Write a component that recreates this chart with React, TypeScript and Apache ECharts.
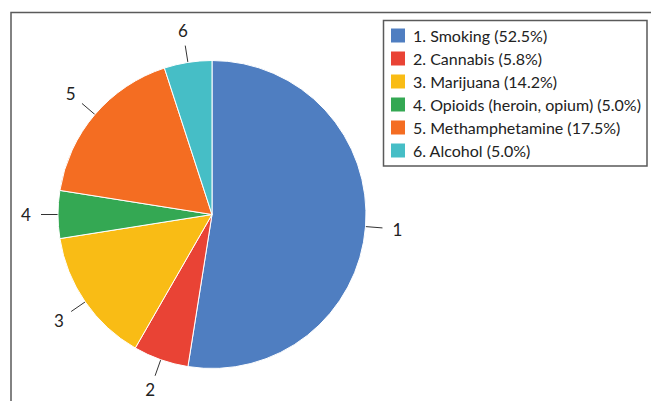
import React, { useEffect, useRef } from "react";
import * as echarts from "echarts";

const categories = [
  "Smoking",
  "Cannabis",
  "Marijuana",
  "Opioids (heroin, opium)",
  "Methamphetamine",
  "Alcohol",
];
const shares = [52.5, 5.8, 14.2, 5.0, 17.5, 5.0];
const sliceLabels = ["1", "2", "3", "4", "5", "6"];
const colors = ["#4F7EC1", "#E94335", "#F9BC15", "#34A853", "#F46D22", "#46BEC6"];

const FONT = "Lato, 'Open Sans', sans-serif";

export default function App() {
  const ref = useRef<HTMLDivElement>(null);

  useEffect(() => {
    if (!ref.current) return;
    const chart = echarts.init(ref.current, undefined, { renderer: "svg" });
    const names = categories.map(
      (c, i) => `${i + 1}. ${c} (${shares[i].toFixed(1)}%)`
    );
    const data = shares.map((v, i) => ({
      name: names[i],
      value: v,
      itemStyle: { color: colors[i] },
    }));
    const ringData = shares.map((v, i) => ({ name: names[i], value: v }));

    chart.setOption({
      animation: false,
      textStyle: { fontFamily: FONT },
      graphic: [
        {
          type: "polyline",
          shape: { points: [[11, 401], [11, 12.5], [651, 12.5]] },
          style: { stroke: "#5a5a5a", lineWidth: 1.5, fill: null },
          silent: true,
        },
        {
          type: "rect",
          shape: { x: 383.5, y: 20.5, width: 263.5, height: 145.5 },
          style: { stroke: "#5a5a5a", lineWidth: 1.5, fill: null },
          silent: true,
        },
      ],
      legend: {
        orient: "vertical",
        left: 389,
        top: 26.5,
        padding: 0,
        itemWidth: 16,
        itemHeight: 16,
        itemGap: 5,
        icon: "rect",
        selectedMode: false,
        data: names,
        textStyle: {
          fontFamily: FONT,
          fontSize: 16,
          color: "#222222",
          padding: [0, 0, 0, 2],
        },
      },
      series: [
        {
          type: "pie",
          center: [212, 214.5],
          radius: 154,
          startAngle: 90,
          clockwise: true,
          avoidLabelOverlap: false,
          data,
          itemStyle: { borderColor: "#ffffff", borderWidth: 1 },
          emphasis: { disabled: true },
          label: {
            show: true,
            position: "outside",
            formatter: " ",
            fontSize: 2,
          },
          labelLine: {
            show: true,
            length: 17,
            length2: 0,
            smooth: false,
            lineStyle: { color: "#333333", width: 1 },
          },
        },
        {
          type: "pie",
          center: [212, 214.5],
          radius: [154, 212],
          startAngle: 90,
          clockwise: true,
          silent: true,
          avoidLabelOverlap: false,
          data: ringData,
          itemStyle: { color: "rgba(0,0,0,0)", borderWidth: 0 },
          emphasis: { disabled: true },
          label: {
            show: true,
            position: "inside",
            formatter: (p: any) => sliceLabels[p.dataIndex],
            fontFamily: FONT,
            fontSize: 17,
            color: "#222222",
          },
          labelLine: { show: false },
        },
      ],
    });

    return () => chart.dispose();
  }, []);

  return (
    <div
      ref={ref}
      style={{ position: "absolute", left: 0, top: 0, width: 651, height: 401 }}
    />
  );
}
